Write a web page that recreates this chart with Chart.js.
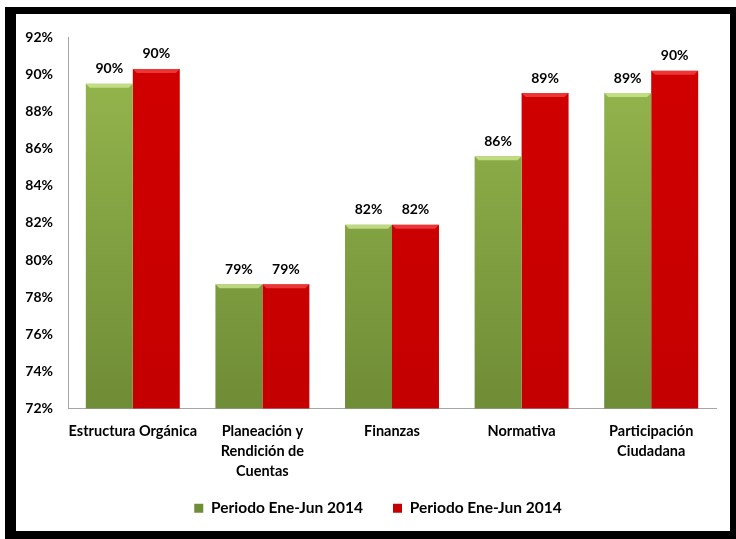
<!DOCTYPE html>
<html>
<head>
<meta charset="utf-8">
<script src="https://cdn.jsdelivr.net/npm/chart.js@4.4.1/dist/chart.umd.min.js"></script>
<style>
    html, body { margin: 0; padding: 0; background: #ffffff; }
    #frame {
        position: absolute;
        left: 5px; top: 7px;
        width: 714px; height: 517px;
        border-left: 11px solid #000;
        border-top: 7px solid #000;
        border-right: 6px solid #000;
        border-bottom: 8px solid #000;
        background: #fff;
    }
    #chart { display: block; }
</style>
</head>
<body>
<div id="frame"><canvas id="chart" width="714" height="517"></canvas></div>
<script>
// Chart data
const categories = [
    'Estructura Orgánica',
    ['Planeación y', 'Rendición de', 'Cuentas'],
    'Finanzas',
    'Normativa',
    ['Participación', 'Ciudadana']
];
const seriesNames = ['Periodo Ene-Jun 2014', 'Periodo Ene-Jun 2014'];
const greenValues = [89.5, 78.7, 81.9, 85.6, 89.0];
const redValues = [90.3, 78.7, 81.9, 89.0, 90.2];
const yMin = 72;
const yMax = 92;
const yStep = 2;

const FONT = 'Lato, "Open Sans", sans-serif';

/**
 * Vertical gradient fill spanning the chart area
 */
function barGradient(context, top, bottom) {
    const chart = context.chart;
    const area = chart.chartArea;
    if (!area) return top;
    const g = chart.ctx.createLinearGradient(0, area.top, 0, area.bottom);
    g.addColorStop(0, top);
    g.addColorStop(1, bottom);
    return g;
}

// Let the category labels run into the legend's top padding, nudge legend right
const layoutTweak = {
    id: 'layoutTweak',
    afterLayout(chart) {
        chart.scales.x.bottom = chart.height;
        chart.legend.left += 12;
        chart.legend.right += 12;
    }
};

// Bevel highlight on top of each bar plus value labels
const barDecor = {
    id: 'barDecor',
    afterDatasetsDraw(chart) {
        const ctx = chart.ctx;
        const bevel = ['rgba(210,235,150,0.75)', 'rgba(255,90,90,0.6)'];
        ctx.save();
        chart.data.datasets.forEach(function(ds, i) {
            const meta = chart.getDatasetMeta(i);
            meta.data.forEach(function(bar, j) {
                const half = bar.width / 2;
                ctx.fillStyle = bevel[i];
                ctx.beginPath();
                ctx.moveTo(bar.x - half, bar.y);
                ctx.lineTo(bar.x + half, bar.y);
                ctx.lineTo(bar.x + half - 4, bar.y + 4);
                ctx.lineTo(bar.x - half + 4, bar.y + 4);
                ctx.closePath();
                ctx.fill();

                ctx.fillStyle = '#000';
                ctx.font = 'bold 14px ' + FONT;
                ctx.textAlign = 'center';
                ctx.textBaseline = 'middle';
                ctx.fillText(Math.round(ds.data[j]) + '%', bar.x, bar.y - 15);
            });
        });
        ctx.restore();
    }
};

new Chart(document.getElementById('chart').getContext('2d'), {
    type: 'bar',
    data: {
        labels: categories,
        datasets: [
            {
                label: seriesNames[0],
                data: greenValues,
                backgroundColor: function(c) { return barGradient(c, '#97b94f', '#6f8c36'); },
                borderWidth: 0
            },
            {
                label: seriesNames[1],
                data: redValues,
                backgroundColor: function(c) { return barGradient(c, '#d20000', '#c40000'); },
                borderWidth: 0
            }
        ]
    },
    options: {
        responsive: false,
        animation: false,
        layout: { padding: { left: 0, top: 22, right: 14, bottom: 5 } },
        datasets: {
            bar: { categoryPercentage: 0.725, barPercentage: 1.0 }
        },
        scales: {
            x: {
                grid: { display: false, drawTicks: false },
                border: { display: true, color: '#a6a6a6', width: 1 },
                ticks: {
                    color: '#000',
                    padding: 13,
                    maxRotation: 0,
                    autoSkip: false,
                    font: { family: FONT, size: 14.5, weight: 'bold', lineHeight: 1.38 }
                },
                afterFit: function(s) { s.height = 62; }
            },
            y: {
                min: yMin,
                max: yMax,
                grid: { display: false, drawTicks: false },
                border: { display: true, color: '#a6a6a6', width: 1 },
                ticks: {
                    stepSize: yStep,
                    color: '#000',
                    padding: 15,
                    font: { family: FONT, size: 14, weight: 'bold' },
                    callback: function(v) { return v + '%'; }
                },
                afterFit: function(s) { s.width = 52; }
            }
        },
        plugins: {
            legend: {
                position: 'bottom',
                labels: {
                    color: '#000',
                    boxWidth: 9,
                    boxHeight: 9,
                    padding: 30,
                    font: { family: FONT, size: 15.5, weight: 'bold' }
                }
            },
            tooltip: { enabled: false }
        }
    },
    plugins: [layoutTweak, barDecor]
});
</script>
</body>
</html>
